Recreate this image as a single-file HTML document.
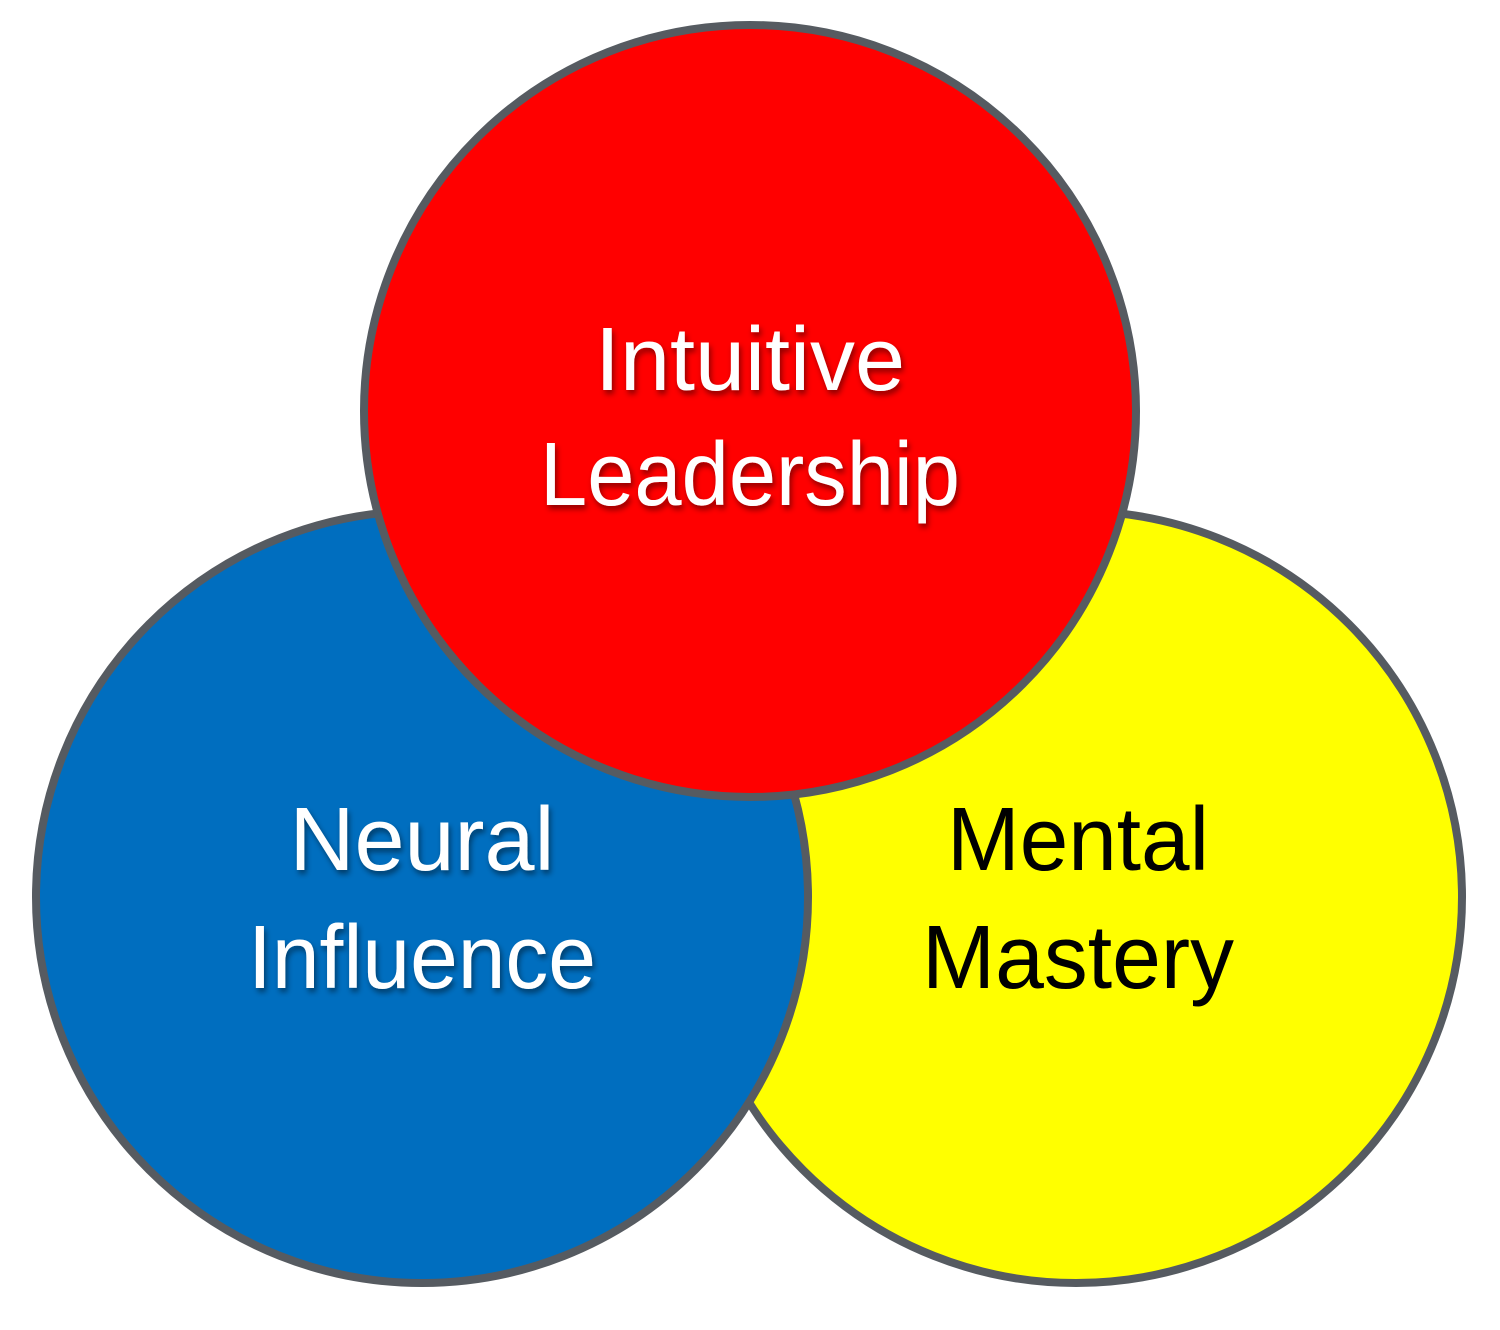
<!DOCTYPE html>
<html><head><meta charset="utf-8"><style>
html,body{margin:0;padding:0;background:#fff;}
svg{display:block;}
text{font-family:"Liberation Sans",sans-serif;font-size:90px;text-anchor:middle;}
.w{fill:#fff;}
.k{fill:#000;}
</style></head><body>
<svg width="1500" height="1330" viewBox="0 0 1500 1330">
<defs>
<filter id="sh" x="-10%" y="-10%" width="120%" height="130%">
<feDropShadow dx="2" dy="4" stdDeviation="3" flood-color="#000" flood-opacity="0.45"/>
</filter>
</defs>
<circle cx="1076" cy="897" r="386" fill="#ffff00" stroke="#565b61" stroke-width="8"/>
<circle cx="422" cy="897" r="386" fill="#006ebf" stroke="#565b61" stroke-width="8"/>
<circle cx="750" cy="411" r="386" fill="#ff0000" stroke="#565b61" stroke-width="8"/>
<g filter="url(#sh)">
<text class="w" x="750" y="390" textLength="310" lengthAdjust="spacingAndGlyphs">Intuitive</text>
<text class="w" x="750" y="505" textLength="420" lengthAdjust="spacingAndGlyphs">Leadership</text>
<text class="w" x="422" y="870" textLength="265" lengthAdjust="spacingAndGlyphs">Neural</text>
<text class="w" x="422" y="988" textLength="348" lengthAdjust="spacingAndGlyphs">Influence</text>
</g>
<text class="k" x="1078" y="870" textLength="262" lengthAdjust="spacingAndGlyphs">Mental</text>
<text class="k" x="1078" y="988" textLength="312" lengthAdjust="spacingAndGlyphs">Mastery</text>
</svg>
</body></html>
